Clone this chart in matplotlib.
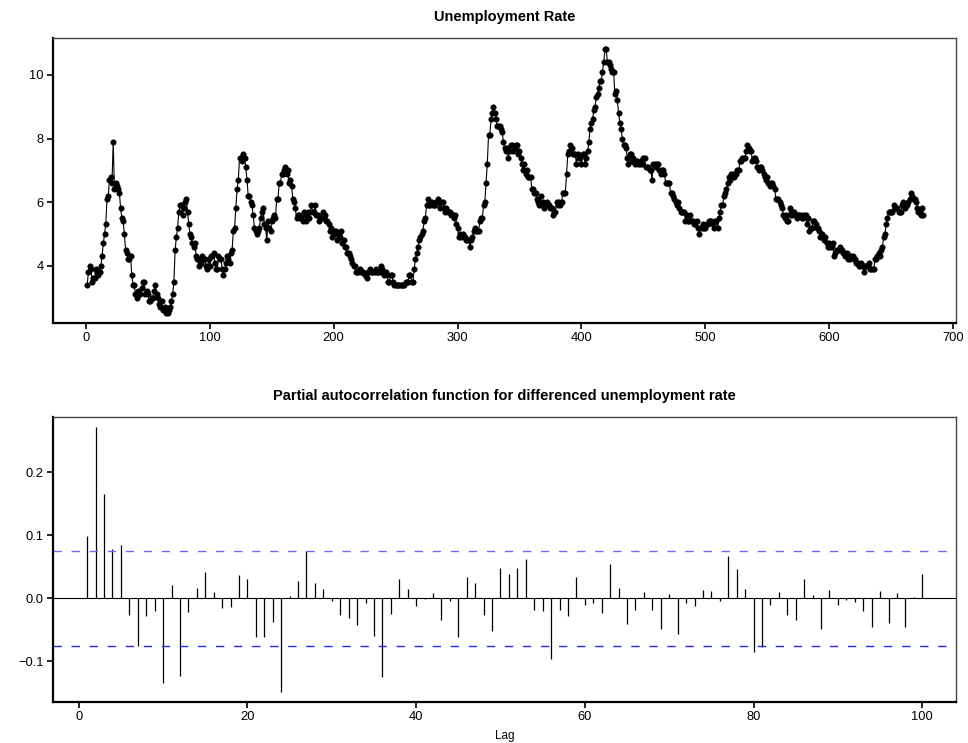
import numpy as np
import matplotlib
matplotlib.use("Agg")
import matplotlib.pyplot as plt

plt.rcParams['font.family'] = ['Liberation Sans', 'DejaVu Sans']

# Monthly unemployment rate (percent), starting Jan 1948
rate_1948_1953 = [
    3.4, 3.8, 4.0, 3.9, 3.5, 3.6, 3.6, 3.9, 3.8, 3.7, 3.8, 4.0,
    4.3, 4.7, 5.0, 5.3, 6.1, 6.2, 6.7, 6.8, 6.6, 7.9, 6.4, 6.6,
    6.5, 6.4, 6.3, 5.8, 5.5, 5.4, 5.0, 4.5, 4.4, 4.2, 4.2, 4.3,
    3.7, 3.4, 3.4, 3.1, 3.0, 3.2, 3.1, 3.1, 3.3, 3.5, 3.5, 3.1,
    3.2, 3.1, 2.9, 2.9, 3.0, 3.0, 3.2, 3.4, 3.1, 3.0, 2.8, 2.7,
    2.9, 2.6, 2.6, 2.7, 2.5, 2.5, 2.6, 2.7, 2.9, 3.1, 3.5, 4.5,
]
rate_1954_1959 = [
    4.9, 5.2, 5.7, 5.9, 5.9, 5.6, 5.8, 6.0, 6.1, 5.7, 5.3, 5.0,
    4.9, 4.7, 4.6, 4.7, 4.3, 4.2, 4.0, 4.2, 4.1, 4.3, 4.2, 4.2,
    4.0, 3.9, 4.2, 4.0, 4.3, 4.3, 4.4, 4.1, 3.9, 3.9, 4.3, 4.2,
    4.2, 3.9, 3.7, 3.9, 4.1, 4.3, 4.2, 4.1, 4.4, 4.5, 5.1, 5.2,
    5.8, 6.4, 6.7, 7.4, 7.4, 7.3, 7.5, 7.4, 7.1, 6.7, 6.2, 6.2,
    6.0, 5.9, 5.6, 5.2, 5.1, 5.0, 5.1, 5.2, 5.5, 5.7, 5.8, 5.3,
]
rate_1960_1965 = [
    5.2, 4.8, 5.4, 5.2, 5.1, 5.4, 5.5, 5.6, 5.5, 6.1, 6.1, 6.6,
    6.6, 6.9, 6.9, 7.0, 7.1, 6.9, 7.0, 6.6, 6.7, 6.5, 6.1, 6.0,
    5.8, 5.5, 5.6, 5.6, 5.5, 5.5, 5.4, 5.7, 5.6, 5.4, 5.7, 5.5,
    5.7, 5.9, 5.7, 5.7, 5.9, 5.6, 5.6, 5.4, 5.5, 5.5, 5.7, 5.5,
    5.6, 5.4, 5.4, 5.3, 5.1, 5.2, 4.9, 5.0, 5.1, 5.1, 4.8, 5.0,
    4.9, 5.1, 4.7, 4.8, 4.6, 4.6, 4.4, 4.4, 4.3, 4.2, 4.1, 4.0,
]
rate_1966_1971 = [
    4.0, 3.8, 3.8, 3.8, 3.9, 3.8, 3.8, 3.8, 3.7, 3.7, 3.6, 3.8,
    3.9, 3.8, 3.8, 3.8, 3.8, 3.9, 3.8, 3.8, 3.8, 4.0, 3.9, 3.8,
    3.7, 3.8, 3.7, 3.5, 3.5, 3.7, 3.7, 3.5, 3.4, 3.4, 3.4, 3.4,
    3.4, 3.4, 3.4, 3.4, 3.4, 3.5, 3.5, 3.5, 3.7, 3.7, 3.5, 3.5,
    3.9, 4.2, 4.4, 4.6, 4.8, 4.9, 5.0, 5.1, 5.4, 5.5, 5.9, 6.1,
    5.9, 5.9, 6.0, 5.9, 5.9, 5.9, 6.0, 6.1, 6.0, 5.8, 6.0, 6.0,
]
rate_1972_1977 = [
    5.8, 5.7, 5.8, 5.7, 5.7, 5.7, 5.6, 5.6, 5.5, 5.6, 5.3, 5.2,
    4.9, 5.0, 4.9, 5.0, 4.9, 4.9, 4.8, 4.8, 4.8, 4.6, 4.8, 4.9,
    5.1, 5.2, 5.1, 5.1, 5.1, 5.4, 5.5, 5.5, 5.9, 6.0, 6.6, 7.2,
    8.1, 8.1, 8.6, 8.8, 9.0, 8.8, 8.6, 8.4, 8.4, 8.4, 8.3, 8.2,
    7.9, 7.7, 7.6, 7.7, 7.4, 7.6, 7.8, 7.8, 7.6, 7.7, 7.8, 7.8,
    7.5, 7.6, 7.4, 7.2, 7.0, 7.2, 6.9, 7.0, 6.8, 6.8, 6.8, 6.4,
]
rate_1978_1983 = [
    6.4, 6.3, 6.3, 6.1, 6.0, 5.9, 6.2, 5.9, 6.0, 5.8, 5.9, 6.0,
    5.9, 5.9, 5.8, 5.8, 5.6, 5.7, 5.7, 6.0, 5.9, 6.0, 5.9, 6.0,
    6.3, 6.3, 6.3, 6.9, 7.5, 7.6, 7.8, 7.7, 7.5, 7.5, 7.5, 7.2,
    7.5, 7.4, 7.4, 7.2, 7.5, 7.5, 7.2, 7.4, 7.6, 7.9, 8.3, 8.5,
    8.6, 8.9, 9.0, 9.3, 9.4, 9.6, 9.8, 9.8, 10.1, 10.4, 10.8, 10.8,
    10.4, 10.4, 10.3, 10.2, 10.1, 10.1, 9.4, 9.5, 9.2, 8.8, 8.5, 8.3,
]
rate_1984_1989 = [
    8.0, 7.8, 7.8, 7.7, 7.4, 7.2, 7.5, 7.5, 7.3, 7.4, 7.2, 7.3,
    7.3, 7.2, 7.2, 7.3, 7.2, 7.4, 7.4, 7.1, 7.1, 7.1, 7.0, 7.0,
    6.7, 7.2, 7.2, 7.1, 7.2, 7.2, 7.0, 6.9, 7.0, 7.0, 6.9, 6.6,
    6.6, 6.6, 6.6, 6.3, 6.3, 6.2, 6.1, 6.0, 5.9, 6.0, 5.8, 5.7,
    5.7, 5.7, 5.7, 5.4, 5.6, 5.4, 5.4, 5.6, 5.4, 5.4, 5.3, 5.3,
    5.4, 5.2, 5.0, 5.2, 5.2, 5.3, 5.2, 5.2, 5.3, 5.3, 5.4, 5.4,
]
rate_1990_1995 = [
    5.4, 5.3, 5.2, 5.4, 5.4, 5.2, 5.5, 5.7, 5.9, 5.9, 6.2, 6.3,
    6.4, 6.6, 6.8, 6.7, 6.9, 6.9, 6.8, 6.9, 6.9, 7.0, 7.0, 7.3,
    7.3, 7.4, 7.4, 7.4, 7.6, 7.8, 7.7, 7.6, 7.6, 7.3, 7.4, 7.4,
    7.3, 7.1, 7.0, 7.1, 7.1, 7.0, 6.9, 6.8, 6.7, 6.8, 6.6, 6.5,
    6.6, 6.6, 6.5, 6.4, 6.1, 6.1, 6.1, 6.0, 5.9, 5.8, 5.6, 5.5,
    5.6, 5.4, 5.4, 5.8, 5.6, 5.6, 5.7, 5.7, 5.6, 5.5, 5.6, 5.6,
]
rate_1996_2004 = [
    5.6, 5.5, 5.5, 5.6, 5.6, 5.3, 5.5, 5.1, 5.2, 5.2, 5.4, 5.4,
    5.3, 5.2, 5.2, 5.1, 4.9, 5.0, 4.9, 4.8, 4.9, 4.7, 4.6, 4.7,
    4.6, 4.6, 4.7, 4.3, 4.4, 4.5, 4.5, 4.5, 4.6, 4.5, 4.4, 4.4,
    4.3, 4.4, 4.2, 4.3, 4.2, 4.3, 4.3, 4.2, 4.2, 4.1, 4.1, 4.0,
    4.0, 4.1, 4.0, 3.8, 4.0, 4.0, 4.0, 4.1, 3.9, 3.9, 3.9, 3.9,
    4.2, 4.2, 4.3, 4.4, 4.3, 4.5, 4.6, 4.9, 5.0, 5.3, 5.5, 5.7,
    5.7, 5.7, 5.7, 5.9, 5.8, 5.8, 5.8, 5.7, 5.7, 5.7, 5.9, 6.0,
    5.8, 5.9, 5.9, 6.0, 6.1, 6.3, 6.2, 6.1, 6.1, 6.0, 5.8, 5.7,
    5.7, 5.6, 5.8, 5.6,
]

# Partial autocorrelations of the differenced series, lags 1..100
pacf_1_25 = [0.099, 0.271, 0.165, 0.078, 0.084, -0.026, -0.075, -0.028, -0.020, -0.135,
             0.021, -0.124, -0.021, 0.017, 0.041, 0.010, -0.016, -0.014, 0.037, 0.031,
             -0.061, -0.062, -0.038, -0.149, 0.004]
pacf_26_50 = [0.027, 0.075, 0.025, 0.014, -0.004, -0.026, -0.031, -0.042, -0.008, -0.060,
              -0.125, -0.025, 0.030, 0.014, -0.013, -0.001, 0.008, -0.034, -0.005, -0.061,
              0.033, 0.025, -0.026, -0.052, 0.048]
pacf_51_75 = [0.038, 0.048, 0.062, -0.018, -0.020, -0.096, -0.019, -0.028, 0.033, -0.011,
              -0.007, -0.024, 0.054, 0.016, -0.041, -0.019, 0.010, -0.019, -0.048, 0.007,
              -0.057, -0.007, -0.012, 0.013, 0.011]
pacf_76_100 = [-0.004, 0.067, 0.047, 0.015, -0.086, -0.078, -0.011, 0.010, -0.027, -0.034,
               0.031, 0.005, -0.048, 0.013, -0.011, -0.002, -0.006, -0.020, -0.045, 0.011,
               -0.039, 0.009, -0.046, 0.002, 0.038]
conf_bound = 0.0754

top_title = "Unemployment Rate"
bottom_title = "Partial autocorrelation function for differenced unemployment rate"
bottom_xlabel = "Lag"
top_xticks = [0, 100, 200, 300, 400, 500, 600, 700]
top_yticks = [4, 6, 8, 10]
bot_xticks = [0, 20, 40, 60, 80, 100]
bot_yticks = [-0.1, 0.0, 0.1, 0.2]

rate = np.array(rate_1948_1953 + rate_1954_1959 + rate_1960_1965 + rate_1966_1971 +
                rate_1972_1977 + rate_1978_1983 + rate_1984_1989 + rate_1990_1995 +
                rate_1996_2004)
t = np.arange(1, len(rate) + 1)
pacf = np.array(pacf_1_25 + pacf_26_50 + pacf_51_75 + pacf_76_100)
lags = np.arange(1, len(pacf) + 1)

W, H = 968, 743
fig = plt.figure(figsize=(W / 100, H / 100), dpi=100)

def style_axes(ax):
    for s in ['top', 'right']:
        ax.spines[s].set_linewidth(1.0)
        ax.spines[s].set_color('#444444')
    for s in ['left', 'bottom']:
        ax.spines[s].set_linewidth(1.6)
        ax.spines[s].set_color('black')
    ax.tick_params(direction='out', length=4.5, width=1.2, labelsize=9.3, pad=2,
                   top=False, right=False)

ax1 = fig.add_axes([53 / W, 1 - 323 / H, (956 - 53) / W, (323 - 38) / H])
ax1.plot(t, rate, color='black', lw=0.8, marker='o', markersize=4.0,
         markerfacecolor='black', markeredgecolor='black', markeredgewidth=0.3)
ax1.set_xlim(-26.6, 702.4)
ax1.set_ylim(2.2, 11.16)
ax1.set_xticks(top_xticks)
ax1.set_yticks(top_yticks)
ax1.set_title(top_title, fontsize=10.5, fontweight='bold', pad=12)
style_axes(ax1)

ax2 = fig.add_axes([53 / W, 1 - 702.3 / H, (956 - 53) / W, (702.3 - 416.7) / H])
ax2.axhline(0, color='black', lw=0.8)
ax2.vlines(lags, 0, pacf, color='black', lw=0.9)
ax2.axhline(conf_bound, color='#6c6cf2', lw=1.0, linestyle=(0, (6, 7)))
ax2.axhline(-conf_bound, color='#2a2ae6', lw=1.0, linestyle=(0, (6, 7)))
ax2.set_xlim(-3.05, 104.0)
ax2.set_ylim(-0.165, 0.288)
ax2.set_xticks(bot_xticks)
ax2.set_yticks(bot_yticks)
ax2.set_yticklabels(['\u22120.1', '0.0', '0.1', '0.2'])
ax2.set_title(bottom_title, fontsize=10.5, fontweight='bold', pad=12)
ax2.set_xlabel(bottom_xlabel, fontsize=8.5, labelpad=5)
style_axes(ax2)

fig.savefig('out.png', dpi=100)
